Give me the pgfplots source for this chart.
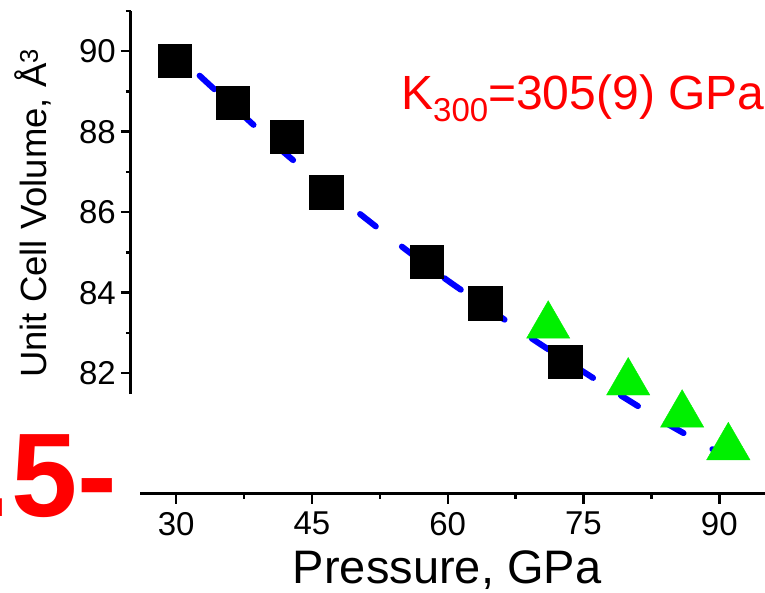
\documentclass[border=0pt]{standalone}
\usepackage{fontspec}
\setmainfont{Liberation Sans}
\usepackage{pgfplots}
\pgfplotsset{compat=1.18}
\definecolor{mygreen}{RGB}{0,240,0}
\begin{document}
\begin{tikzpicture}
\begin{axis}[
  at={(0pt,0pt)}, anchor=south west,
  scale only axis, width=633.5pt, height=483pt,
  xmin=25, xmax=95, ymin=79, ymax=91,
  clip=false,
  axis x line*=bottom, axis y line*=left,
  x axis line style={draw=none}, y axis line style={draw=none},
  xtick={30,45,60,75,90}, minor xtick={37.5,52.5,67.5,82.5},
  ytick={82,84,86,88,90}, minor ytick={83,85,87,89,91},
  tick align=outside,
  major tick length=10pt, minor tick length=5pt,
  tick style={black, line width=2.5pt},
  tick label style={font=\fontsize{33}{40}\selectfont},
  /pgf/number format/assume math mode=true,
  xticklabel style={anchor=north, inner sep=0pt, yshift=-8pt},
  yticklabel style={anchor=east, inner sep=0pt, xshift=-5pt},
  xlabel={Pressure, GPa},
  ylabel={Unit Cell Volume, Å\textsuperscript{3}},
  xlabel style={font=\fontsize{47}{56}\selectfont, at={(axis description cs:0.499,-0.1863)}, anchor=base, inner sep=0pt},
  ylabel style={font=\fontsize{36.5}{43}\selectfont, at={(axis description cs:-0.1326,0.581)}, anchor=base, inner sep=0pt},
]
\draw[line width=3pt] (axis cs:26,79) -- (axis cs:95.2,79);
\draw[line width=3pt] (axis cs:25,81.48) -- (axis cs:25,91);
% squares
\addplot[only marks, mark=square*, mark size=16.6pt, mark options={fill=black, draw=none}] coordinates {
(29.8,89.76) (36.26,88.73) (42.23,87.87) (46.57,86.50) (57.7,84.77) (64.14,83.74) (72.98,82.28)
};
% triangles
\addplot[only marks, mark=triangle*, mark size=25pt, mark options={fill=mygreen, draw=mygreen, line width=0.4pt}] coordinates {
(71.1,83.18) (79.94,81.77) (85.9,80.97) (91.0,80.16)
};
% fit
\addplot[blue, line width=6pt, line cap=round, dash pattern=on 20pt off 33pt, dash phase=16pt, smooth, mark=none] coordinates {
(29.59,90.02) (33.51,89.20) (37.76,88.33) (42.04,87.46) (46.52,86.64) (51.02,85.83) (55.55,85.04) (60.20,84.27) (65.0,83.53) (69.71,82.80) (74.55,82.10) (79.39,81.41) (84.36,80.73) (90.48,79.96)
};
\end{axis}
\node[anchor=base west, inner sep=0pt, text=red, font=\fontsize{48}{58}\selectfont] at (270pt,384pt) {K\raisebox{-12pt}{\fontsize{33}{38}\selectfont 300}=305(9) GPa};
\node[anchor=base east, inner sep=0pt, text=red, font=\fontsize{119}{130}\selectfont\bfseries] at (-14pt,-23pt) {.5-};
\pgfresetboundingbox
\useasboundingbox (-131pt,-99pt) rectangle (634pt,494pt);
\end{tikzpicture}
\end{document}
